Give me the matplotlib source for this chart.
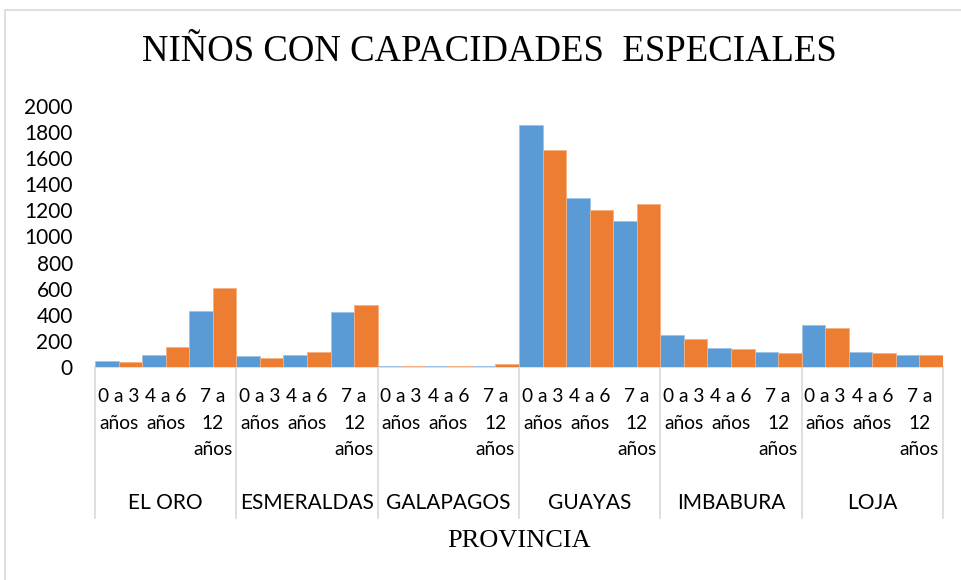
import textwrap
import numpy as np
import matplotlib
matplotlib.use("Agg")
import matplotlib.pyplot as plt
from matplotlib.patches import Rectangle

provinces = ["EL ORO", "ESMERALDAS", "GALAPAGOS", "GUAYAS", "IMBABURA", "LOJA"]
age_groups = ["0 a 3 años", "4 a 6 años", "7 a 12 años"]
# two series per age group (blue, orange)
serie_azul = [46, 95, 432,
              84, 95, 419,
              8, 8, 8,
              1852, 1297, 1121,
              245, 146, 115,
              322, 117, 95]
serie_naranja = [36, 153, 607,
                 66, 117, 478,
                 6, 6, 20,
                 1660, 1200, 1247,
                 215, 136, 105,
                 301, 105, 95]
yticks = [0, 200, 400, 600, 800, 1000, 1200, 1400, 1600, 1800, 2000]

title = "NIÑOS CON CAPACIDADES  ESPECIALES"
xlabel = "PROVINCIA"

BLUE = "#5B9BD5"
ORANGE = "#ED7D31"
GRID = "#D9D9D9"
SANS = ["Lato", "DejaVu Sans"]
SERIF = ["Liberation Serif", "DejaVu Serif"]

W, H = 961, 580
fig = plt.figure(figsize=(W / 100, H / 100), dpi=100)

# chart border
fig.patches.append(Rectangle((5 / W, -0.1), 1.2, 1 - 10 / H + 0.1,
                             transform=fig.transFigure, fill=False,
                             edgecolor=GRID, linewidth=1.2))

left, right = 95 / W, 943 / W
bottom, top = 1 - 367 / H, 1 - 106 / H
ax = fig.add_axes([left, bottom, right - left, top - bottom])

n = len(serie_azul)
x = np.arange(n)
bw = 0.5
ax.bar(x - bw / 2, serie_azul, width=bw, color=BLUE, edgecolor="#9DC3E6",
       linewidth=0.6, zorder=3)
ax.bar(x + bw / 2, serie_naranja, width=bw, color=ORANGE, edgecolor="#F4B183",
       linewidth=0.6, zorder=3)

ax.set_xlim(-0.5, n - 0.5)
ax.set_ylim(0, 2000)
ax.set_yticks(yticks)
ax.set_yticklabels([str(v) for v in yticks], fontfamily=SANS, fontsize=15,
                   color="#000000")
ax.tick_params(axis="y", length=0, pad=16)
ax.set_xticks([])
for s in ["top", "right", "left"]:
    ax.spines[s].set_visible(False)
ax.spines["bottom"].set_color(GRID)
ax.spines["bottom"].set_linewidth(1.2)
ax.spines["bottom"].set_zorder(1)

# category separators below axis
trans = ax.get_xaxis_transform()
sep_len = (518 - 367) / (367 - 106)
for b in np.arange(-0.5, n, 3):
    ax.plot([b, b], [0, -sep_len], transform=trans, color=GRID,
            linewidth=1.2, clip_on=False)

# age group labels
age_top = -(388 - 367) / (367 - 106)
for i in range(n):
    lbl = textwrap.fill(age_groups[i % 3], width=5)
    ax.text(i, age_top, lbl, transform=trans, ha="center", va="top",
            fontfamily=SANS, fontsize=13.8, linespacing=1.68, color="#000000")

# province labels
prov_y = -(503 - 367) / (367 - 106)
for k, p in enumerate(provinces):
    ax.text(3 * k + 1, prov_y, p, transform=trans, ha="center", va="center",
            fontfamily=SANS, fontsize=15, color="#000000")

fig.text(519 / W, 1 - 541 / H, xlabel, ha="center", va="center",
         fontfamily=SERIF, fontsize=19, color="#000000")
fig.text(489.5 / W, 1 - 52 / H, title, ha="center", va="center",
         fontfamily=SERIF, fontsize=26.5, color="#000000")

fig.savefig("out.png", dpi=100)
